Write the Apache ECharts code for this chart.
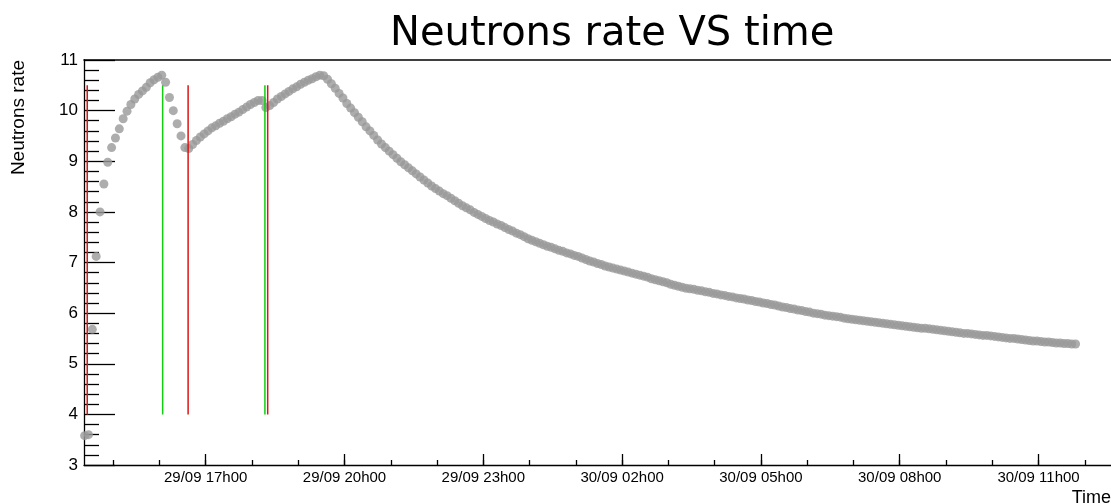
<!DOCTYPE html>
<html><head><meta charset="utf-8">
<script src="https://cdn.jsdelivr.net/npm/echarts@6/dist/echarts.min.js"></script>
<style>html,body{margin:0;padding:0;background:#fff}#c{width:1111px;height:504px}</style>
</head><body><div id="c"></div>
<script>
// Sampling: first point at 29/09 14h23, one point every 5 minutes (hours since 29/09 00h00)
const startHour = 14 + 23 / 60;
const stepMinutes = 5;
const rate = [
  3.58, 3.60, 5.68, 7.12, 8.00, 8.55, 8.98, 9.27, 9.46, 9.64,
  9.84, 9.99, 10.12, 10.23, 10.32, 10.39, 10.46, 10.55, 10.61, 10.66,
  10.70, 10.56, 10.26, 10.00, 9.74, 9.50, 9.27, 9.25, 9.33, 9.41,
  9.48, 9.54, 9.60, 9.66, 9.70, 9.75, 9.79, 9.84, 9.88, 9.93,
  9.97, 10.02, 10.07, 10.12, 10.16, 10.20, 10.20, 10.06, 10.10, 10.16,
  10.23, 10.28, 10.33, 10.38, 10.43, 10.47, 10.52, 10.56, 10.60, 10.63,
  10.67, 10.70, 10.69, 10.62, 10.53, 10.44, 10.34, 10.25, 10.14, 10.05,
  9.96, 9.87, 9.78, 9.68, 9.60, 9.51, 9.42, 9.34, 9.27, 9.20,
  9.13, 9.06, 8.99, 8.93, 8.87, 8.81, 8.75, 8.69, 8.63, 8.57,
  8.51, 8.46, 8.41, 8.36, 8.32, 8.27, 8.22, 8.17, 8.12, 8.08,
  8.04, 7.99, 7.95, 7.91, 7.87, 7.83, 7.80, 7.76, 7.73, 7.69,
  7.65, 7.62, 7.58, 7.55, 7.51, 7.47, 7.44, 7.41, 7.38, 7.35,
  7.32, 7.30, 7.27, 7.24, 7.22, 7.19, 7.17, 7.14, 7.12, 7.09,
  7.06, 7.03, 7.01, 6.98, 6.96, 6.93, 6.91, 6.89, 6.87, 6.85,
  6.83, 6.81, 6.79, 6.77, 6.75, 6.73, 6.71, 6.68, 6.66, 6.64,
  6.62, 6.60, 6.57, 6.55, 6.53, 6.51, 6.49, 6.48, 6.47, 6.45,
  6.44, 6.42, 6.41, 6.39, 6.38, 6.36, 6.35, 6.33, 6.32, 6.30,
  6.29, 6.28, 6.26, 6.25, 6.23, 6.22, 6.20, 6.19, 6.17, 6.16,
  6.14, 6.12, 6.11, 6.09, 6.08, 6.06, 6.05, 6.03, 6.02, 6.00,
  5.99, 5.98, 5.96, 5.95, 5.94, 5.93, 5.92, 5.90, 5.89, 5.88,
  5.87, 5.86, 5.85, 5.84, 5.83, 5.82, 5.81, 5.80, 5.79, 5.78,
  5.77, 5.76, 5.75, 5.74, 5.73, 5.72, 5.71, 5.70, 5.70, 5.69,
  5.68, 5.67, 5.66, 5.65, 5.64, 5.63, 5.62, 5.61, 5.60, 5.60,
  5.59, 5.58, 5.57, 5.56, 5.56, 5.55, 5.54, 5.53, 5.52, 5.51,
  5.50, 5.50, 5.49, 5.48, 5.47, 5.46, 5.45, 5.45, 5.44, 5.43,
  5.43, 5.42, 5.41, 5.41, 5.40, 5.40, 5.39, 5.39
];
const greenMarks = [16.07, 18.28];
const redMarks = [14.44, 16.62, 18.34];
const markLow = 4;
const markHigh = 10.5;
const majorTicks = [17, 20, 23, 26, 29, 32, 35];
const minorTicks = [15, 16, 17, 18, 19, 20, 21, 22, 23, 24, 25, 26, 27, 28, 29, 30, 31, 32, 33, 34, 35, 36];
const xMin = 14.37, xMax = 36.566;
const yMin = 3, yMax = 11;

const points = rate.map((v, i) => [startHour + i * stepMinutes / 60, v]);
function fmt(v) {
  const d = v >= 24 ? '30/09' : '29/09';
  const h = Math.round(v) % 24;
  return d + ' ' + String(h).padStart(2, '0') + 'h00';
}
const font = 'Liberation Sans, Arial, Helvetica, sans-serif';

const markSeries = [];
greenMarks.forEach(t => markSeries.push({
  type: 'line', data: [[t, markLow], [t, markHigh]], symbol: 'none', silent: true, z: 5,
  lineStyle: { color: '#11cc11', width: 1.5 }
}));
redMarks.forEach(t => markSeries.push({
  type: 'line', data: [[t, markLow], [t, markHigh]], symbol: 'none', silent: true, z: 5,
  lineStyle: { color: '#dd1515', width: 1.5 }
}));

const chart = echarts.init(document.getElementById('c'));
chart.setOption({
  animation: false,
  backgroundColor: '#fff',
  title: {
    text: 'Neutrons rate VS time', left: 385, top: 10,
    textStyle: { fontFamily: 'DejaVu Sans', fontSize: 40, fontWeight: 'normal', color: '#000' }
  },
  grid: { left: 84, right: 0, top: 60, bottom: 39, containLabel: false },
  xAxis: [
    {
      type: 'value', min: xMin, max: xMax, position: 'bottom',
      axisLine: { show: true, lineStyle: { color: '#000', width: 1.3 } },
      axisTick: { show: true, inside: true, length: 11, customValues: majorTicks, lineStyle: { color: '#000', width: 1.3 } },
      axisLabel: { show: true, customValues: majorTicks, formatter: fmt, fontFamily: font, fontSize: 15, color: '#000', margin: 5 },
      splitLine: { show: false }
    },
    {
      type: 'value', min: xMin, max: xMax, position: 'bottom',
      axisLine: { show: false },
      axisTick: { show: true, inside: true, length: 5, customValues: minorTicks, lineStyle: { color: '#000', width: 1.3 } },
      axisLabel: { show: false },
      splitLine: { show: false }
    },
    {
      type: 'value', min: xMin, max: xMax, position: 'top',
      axisLine: { show: true, lineStyle: { color: '#000', width: 1.6 } },
      axisTick: { show: false }, axisLabel: { show: false }, splitLine: { show: false }
    }
  ],
  yAxis: {
    type: 'value', min: yMin, max: yMax, interval: 1,
    axisLine: { show: true, lineStyle: { color: '#000', width: 1.3 } },
    axisTick: { show: true, inside: true, length: 31, lineStyle: { color: '#000', width: 1.3 } },
    minorTick: { show: true, splitNumber: 5, length: 15, lineStyle: { color: '#000', width: 1.3 } },
    axisLabel: { fontFamily: font, fontSize: 17, color: '#000', margin: 6 },
    splitLine: { show: false }
  },
  graphic: [
    {
      type: 'text', x: 19, y: 60, rotation: Math.PI / 2,
      style: { text: 'Neutrons rate', fill: '#000', font: '19px ' + font, textAlign: 'right', textVerticalAlign: 'middle' }
    },
    {
      type: 'text', x: 1111, y: 489,
      style: { text: 'Time', fill: '#000', font: '18px ' + font, textAlign: 'right', textVerticalAlign: 'top' }
    }
  ],
  series: [
    {
      type: 'scatter', data: points, symbol: 'circle', symbolSize: 9, z: 2,
      itemStyle: { color: '#999999' }, silent: true
    }
  ].concat(markSeries)
});
</script>
</body></html>
